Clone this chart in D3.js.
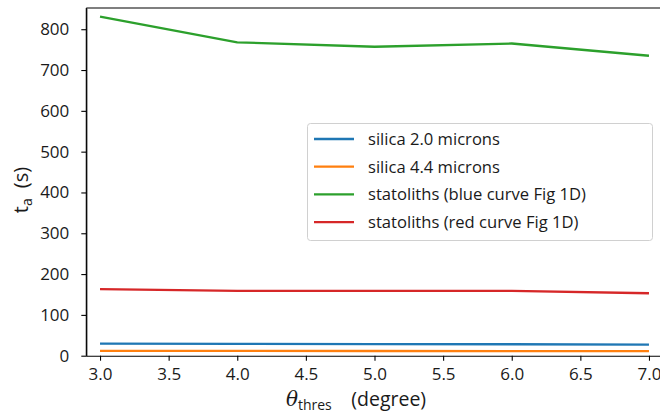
<!DOCTYPE html>
<html>
<head>
<meta charset="utf-8">
<script src="https://cdn.jsdelivr.net/npm/d3@7"></script>
<style>
  body { margin: 0; background: #fff; }
  svg { display: block; }
  text { font-family: "Open Sans", sans-serif; fill: #1a1a1a; }
</style>
</head>
<body>
<svg id="chart" width="660" height="420"></svg>
<script>
// Settling time t_a against the angle threshold, one series per particle type
const thetaThres = [3, 4, 5, 6, 7];
const silica20 = [29.5, 29, 28.5, 28, 27];
const silica44 = [12, 12, 11.5, 11, 11];
const statolithsBlue = [831, 768, 757, 765, 735];
const statolithsRed = [163, 159, 159, 159, 153];

const seriesNames = [
  "silica 2.0 microns",
  "silica 4.4 microns",
  "statoliths (blue curve Fig 1D)",
  "statoliths (red curve Fig 1D)"
];
const seriesValues = [silica20, silica44, statolithsBlue, statolithsRed];
const seriesColors = ["#1f77b4", "#ff7f0e", "#2ca02c", "#d62728"];

const xTicks = [3.0, 3.5, 4.0, 4.5, 5.0, 5.5, 6.0, 6.5, 7.0];
const yTicks = [0, 100, 200, 300, 400, 500, 600, 700, 800];

const svg = d3.select("#chart");
const plot = { left: 86.3, right: 662.7, top: 8, bottom: 355.7 };

const x = d3.scaleLinear().domain([2.9, 7.1]).range([plot.left, plot.right]);
const y = d3.scaleLinear().domain([0, 852]).range([plot.bottom, plot.top]);

// Lines
const line = d3.line()
  .x((d, i) => x(thetaThres[i]))
  .y(d => y(d));

svg.append("g").selectAll("path")
  .data(seriesValues)
  .join("path")
  .attr("fill", "none")
  .attr("stroke", (d, i) => seriesColors[i])
  .attr("stroke-width", 2.3)
  .attr("stroke-linejoin", "round")
  .attr("d", line);

// Frame: left, top and bottom edges (right edge lies past the canvas)
const frame = svg.append("g").attr("stroke", "#000").attr("stroke-width", 1.1);
frame.append("line").attr("x1", plot.left).attr("x2", plot.left).attr("y1", plot.top).attr("y2", plot.bottom);
frame.append("line").attr("x1", plot.left).attr("x2", 660).attr("y1", plot.top).attr("y2", plot.top);

// Axes
const xAxis = svg.append("g")
  .attr("transform", `translate(0,${plot.bottom})`)
  .call(d3.axisBottom(x).tickValues(xTicks).tickFormat(d3.format(".1f")).tickSize(5).tickPadding(7).tickSizeOuter(0));
const yAxis = svg.append("g")
  .attr("transform", `translate(${plot.left},0)`)
  .call(d3.axisLeft(y).tickValues(yTicks).tickFormat(d3.format("d")).tickSize(5).tickPadding(12).tickSizeOuter(0));

[xAxis, yAxis].forEach(a => {
  a.attr("font-size", null).attr("font-family", null);
  a.select(".domain").attr("stroke", "#000").attr("stroke-width", 1.1);
  a.selectAll(".tick line").attr("stroke", "#000").attr("stroke-width", 1.1);
  a.selectAll(".tick text").attr("font-size", 17).attr("fill", "#1a1a1a");
});
xAxis.select(".domain").attr("d", `M${plot.left},0.5H660`);

// Axis titles
const xLabel = svg.append("text")
  .attr("x", 356)
  .attr("y", 406)
  .attr("text-anchor", "middle")
  .attr("font-size", 19.5);
xLabel.append("tspan").attr("font-family", "DejaVu Serif").attr("font-style", "italic").attr("font-size", 20).text("θ");
xLabel.append("tspan").attr("font-size", 14).attr("dy", 4).text("thres");
xLabel.append("tspan").attr("dy", -4).text("\u2002\u2002(degree)");

const yLabel = svg.append("text")
  .attr("transform", "translate(28,190) rotate(-90)")
  .attr("text-anchor", "middle")
  .attr("font-size", 20);
yLabel.append("tspan").text("t");
yLabel.append("tspan").attr("font-size", 14).attr("dy", 4).text("a");
yLabel.append("tspan").attr("dy", -4).text("\u2002(s)");

// Legend
const legend = svg.append("g");
legend.append("rect")
  .attr("x", 307.5).attr("y", 123.5)
  .attr("width", 345).attr("height", 117)
  .attr("rx", 3)
  .attr("fill", "#fff").attr("fill-opacity", 0.85)
  .attr("stroke", "#d0d0d0").attr("stroke-width", 1);

const items = legend.selectAll("g.item")
  .data(seriesNames)
  .join("g")
  .attr("class", "item")
  .attr("transform", (d, i) => `translate(0,${139 + i * 27.7})`);
items.append("line")
  .attr("x1", 314).attr("x2", 354)
  .attr("stroke", (d, i) => seriesColors[i])
  .attr("stroke-width", 2.3);
items.append("text")
  .attr("x", 368)
  .attr("dy", "0.35em")
  .attr("font-size", 16.6)
  .text(d => d);
</script>
</body>
</html>
